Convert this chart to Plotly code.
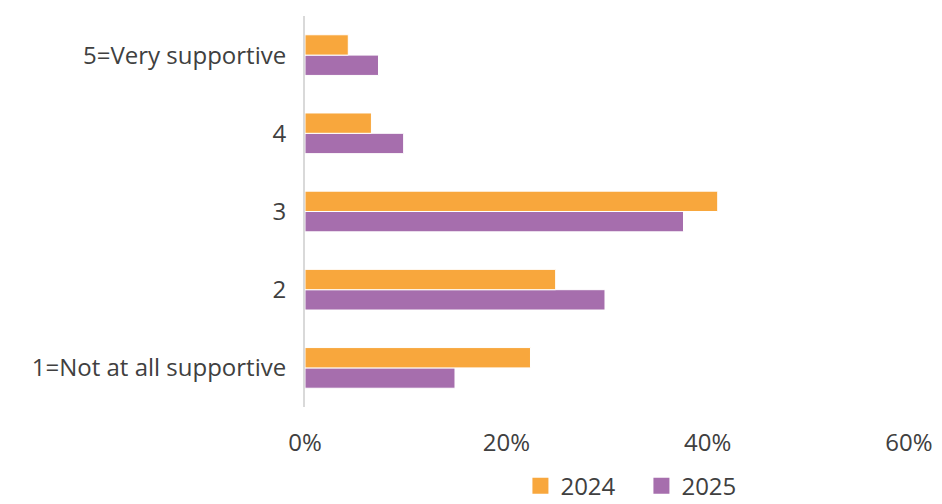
import plotly.graph_objects as go

categories = ["1=Not at all supportive", "2", "3", "4", "5=Very supportive"]
values_2024 = [0.224, 0.249, 0.410, 0.066, 0.043]
values_2025 = [0.149, 0.298, 0.376, 0.098, 0.073]
tick_vals = [0, 0.2, 0.4, 0.6]
tick_text = ["0%", "20%", "40%", "60%"]

FONT = "Open Sans"
TEXT = "#404040"
ORANGE = "#F8A73D"
PURPLE = "#A66EAD"

fig = go.Figure()
fig.add_trace(go.Bar(
    y=categories, x=values_2025, name="2025", orientation="h", showlegend=False,
    marker=dict(color=PURPLE, line=dict(color="white", width=1)),
))
fig.add_trace(go.Bar(
    y=categories, x=values_2024, name="2024", orientation="h", showlegend=False,
    marker=dict(color=ORANGE, line=dict(color="white", width=1)),
))
# legend entries with larger square swatches
for name, color in [("2024", ORANGE), ("2025", PURPLE)]:
    fig.add_trace(go.Scatter(
        x=[None], y=[None], mode="markers", name=name,
        marker=dict(symbol="square", size=18, color=color),
    ))

fig.update_layout(
    width=942, height=504,
    margin=dict(l=305, r=33, t=16, b=97, autoexpand=False),
    paper_bgcolor="white", plot_bgcolor="white",
    barmode="group", bargap=0.48, bargroupgap=0,
    font=dict(family=FONT, size=24, color=TEXT),
    showlegend=True,
    legend=dict(
        orientation="h", x=0.557, xanchor="center", y=-0.145, yanchor="top",
        font=dict(size=24, color=TEXT),
        itemwidth=30, entrywidth=76, entrywidthmode="pixels",
    ),
    xaxis=dict(
        range=[0, 0.6], tickvals=tick_vals, ticktext=tick_text,
        showgrid=False, zeroline=False, showline=False,
        ticks="outside", ticklen=14, tickcolor="rgba(0,0,0,0)",
        tickfont=dict(size=24, color=TEXT),
    ),
    yaxis=dict(
        categoryorder="array", categoryarray=categories,
        showgrid=False, zeroline=False,
        showline=True, linecolor="#d9d9d9", linewidth=2,
        ticks="outside", ticklen=12, tickcolor="rgba(0,0,0,0)",
        tickfont=dict(size=24, color=TEXT),
    ),
)

fig.write_html("out.html")
